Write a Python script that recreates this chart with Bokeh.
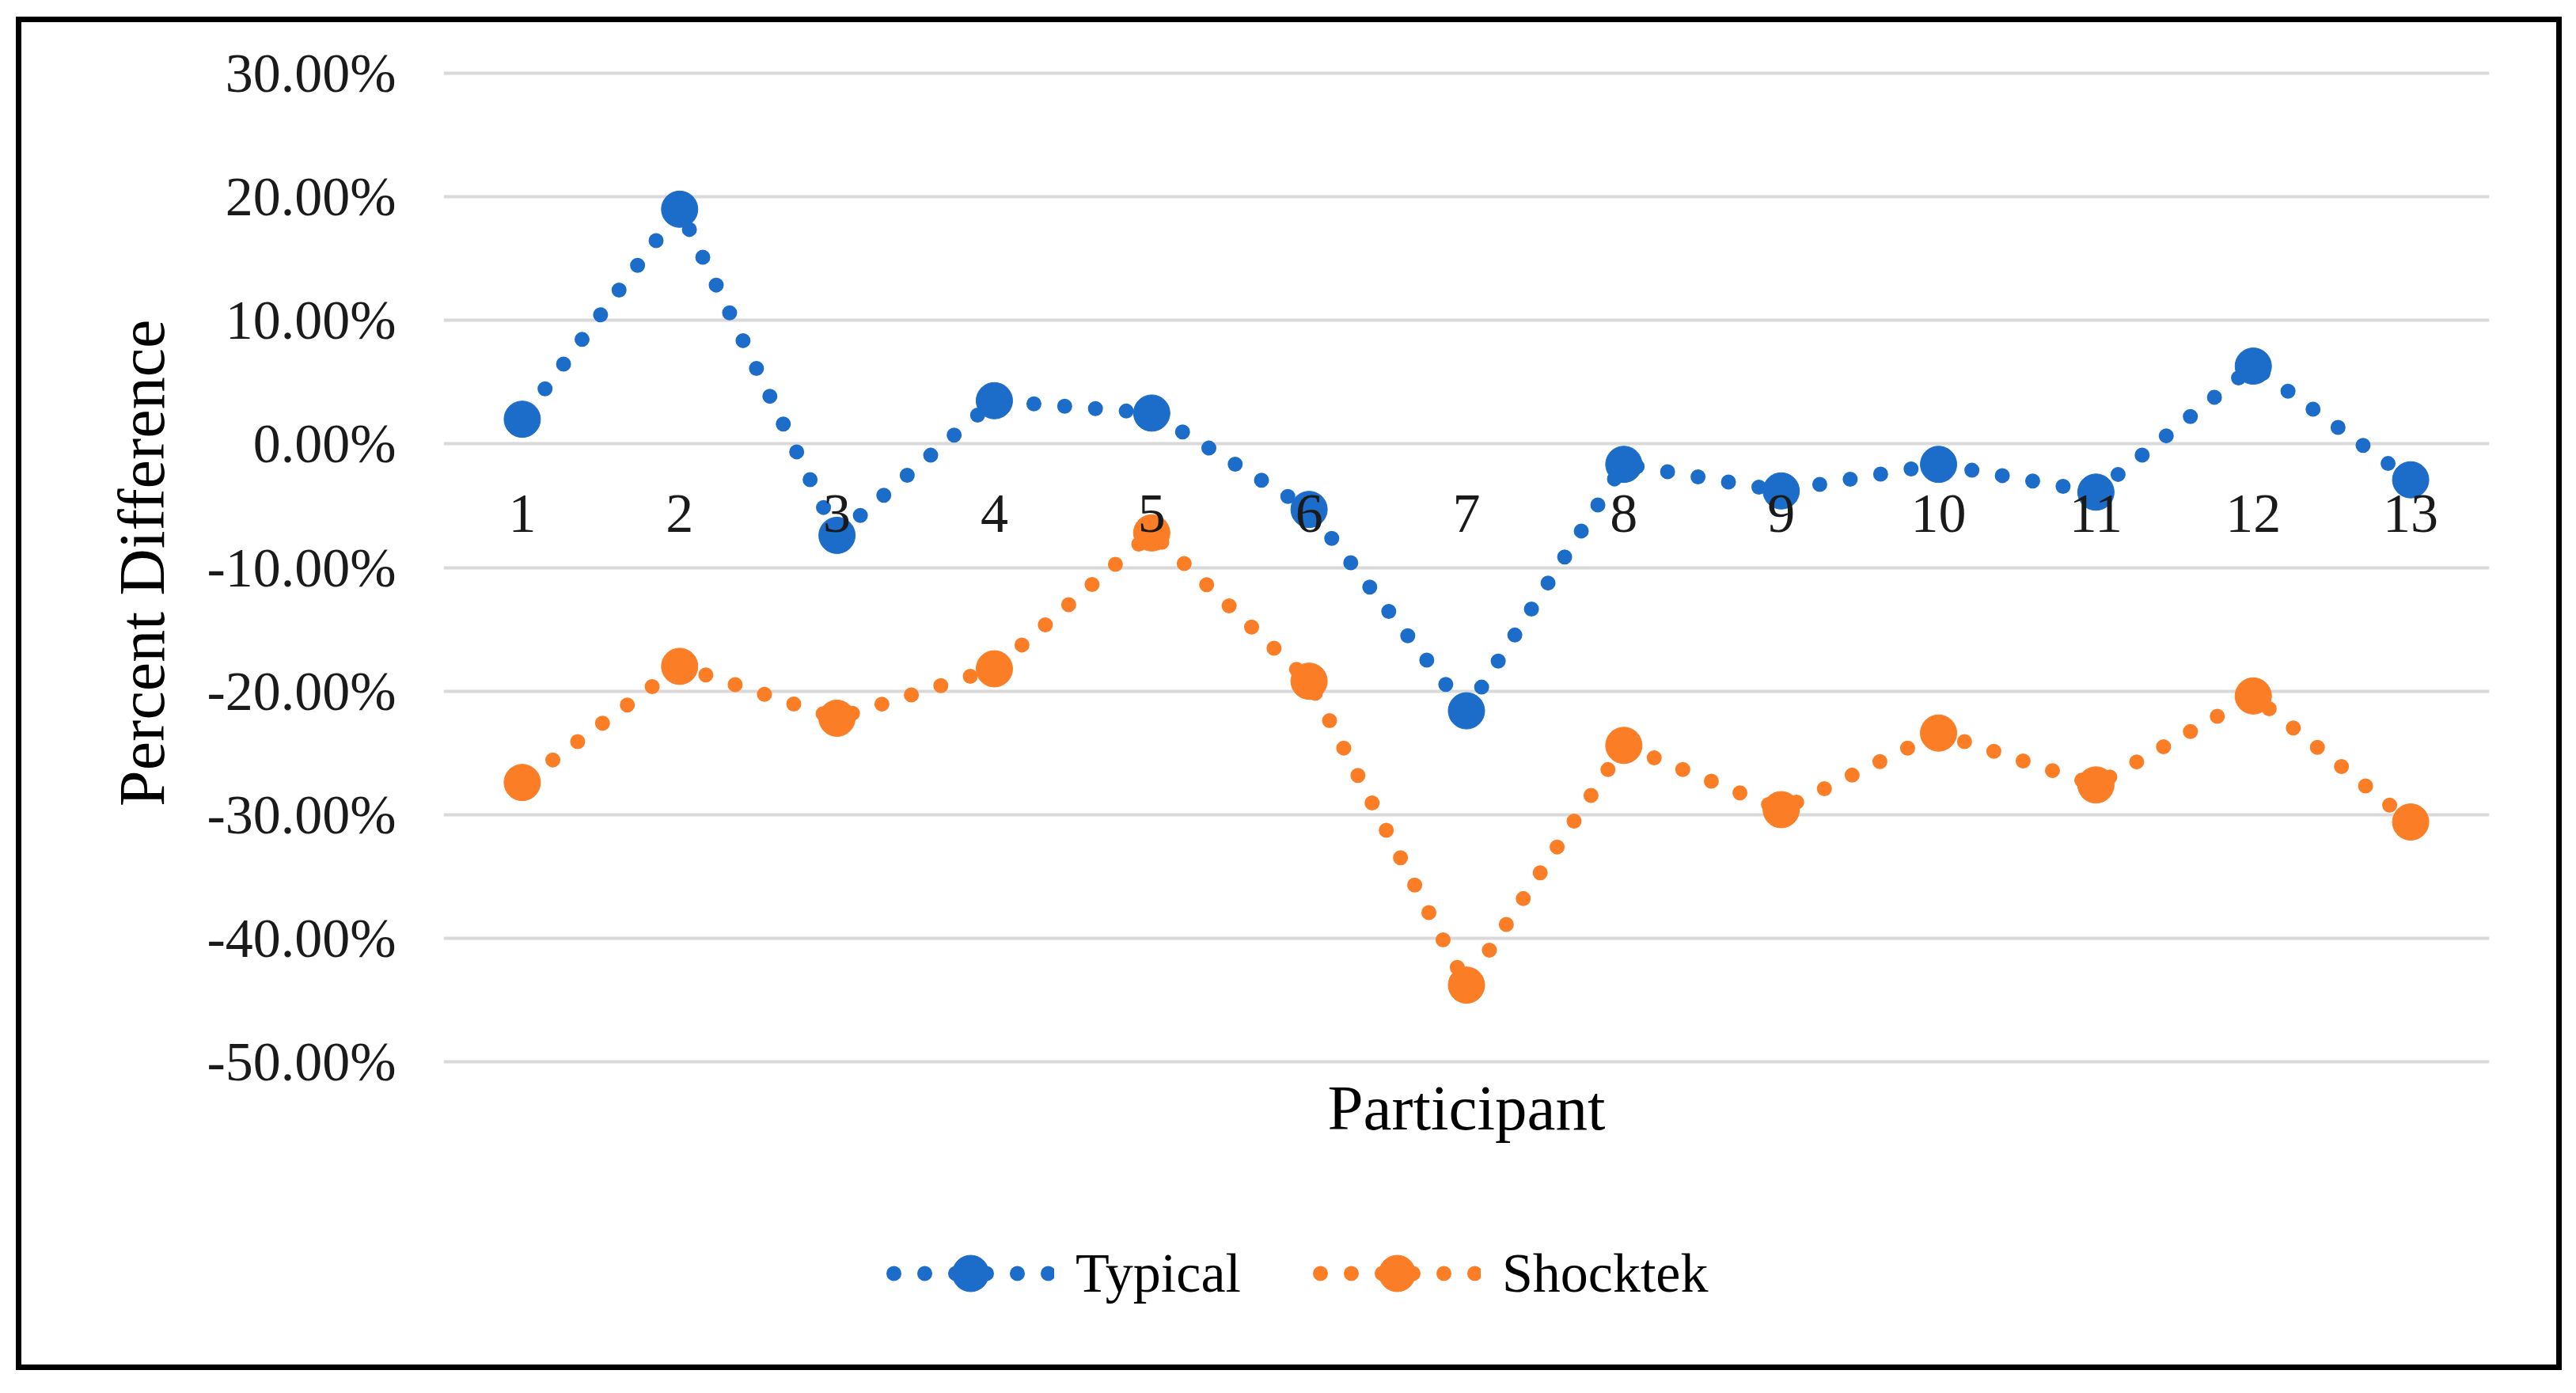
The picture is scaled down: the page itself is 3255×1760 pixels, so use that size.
from bokeh.plotting import figure
from bokeh.models import (Range1d, FixedTicker, NumeralTickFormatter, Legend, LegendItem,
                          Title, Label)
from bokeh.core.properties import value
from bokeh.embed import file_html
from bokeh.resources import INLINE

# ---- data ----
participants = ["1", "2", "3", "4", "5", "6", "7", "8", "9", "10", "11", "12", "13"]
typical = [0.020, 0.190, -0.074, 0.035, 0.025, -0.053, -0.216, -0.0165, -0.038, -0.0165, -0.039, 0.063, -0.029]
shocktek = [-0.274, -0.180, -0.222, -0.182, -0.072, -0.192, -0.438, -0.244, -0.296, -0.234, -0.276, -0.204, -0.306]
y_ticks = [-0.5, -0.4, -0.3, -0.2, -0.1, 0.0, 0.1, 0.2, 0.3]
series_names = ["Typical", "Shocktek"]
x_title = "Participant"
y_title = "Percent Difference"

x_pos = [i + 1 for i in range(len(participants))]

BLUE = "#1c6cc9"
ORANGE = "#fb7d26"
FONT = "Liberation Serif"

# frame runs from the top gridline down to the bottom of the chart box, so that the
# legend and the x title can sit inside it (below the lowest gridline)
PX_PER_UNIT = 1561.0
FRAME_TOP = 0.302
FRAME_H = 1696 - 61
y_bottom = FRAME_TOP - FRAME_H / PX_PER_UNIT

p = figure(width=3203, height=1696,
           x_range=Range1d(0.5, len(participants) + 0.5),
           y_range=Range1d(y_bottom, FRAME_TOP),
           x_axis_location=None,
           output_backend="svg", toolbar_location=None,
           min_border_left=533, min_border_right=85,
           min_border_top=61, min_border_bottom=0)
p.styles = {"outline": "7px solid black", "outline-offset": "0px",
            "position": "relative", "left": "27px", "top": "28px"}
p.outline_line_color = None
p.background_fill_color = "white"
p.border_fill_color = "white"

p.xgrid.grid_line_color = None
p.ygrid.ticker = FixedTicker(ticks=y_ticks)
p.ygrid.grid_line_color = "#d9d9d9"
p.ygrid.grid_line_width = 4

# y axis
ya = p.yaxis[0]
ya.ticker = FixedTicker(ticks=y_ticks)
ya.formatter = NumeralTickFormatter(format="0.00%")
ya.axis_line_color = None
ya.major_tick_line_color = None
ya.minor_tick_line_color = None
ya.major_tick_out = 0
ya.major_tick_in = 0
ya.major_label_standoff = 60
ya.major_label_text_font = FONT
ya.major_label_text_font_size = "70px"
ya.major_label_text_color = "#1a1a1a"

# y title, centred on the gridline block (anchored at the top of the frame)
ytitle = Title(text=y_title, align="right", offset=314, standoff=68,
               text_font=FONT, text_font_size="82px", text_font_style="normal",
               text_color="#000000")
p.add_layout(ytitle, "left")

# series
renderers = []
for vals, col in ((typical, BLUE), (shocktek, ORANGE)):
    ln = p.line(x=x_pos, y=vals, line_color=col, line_width=19,
                line_dash="0 39", line_dash_offset=30, line_cap="round")
    sc = p.scatter(x=x_pos, y=vals, size=46, fill_color=col, line_color=col)
    renderers.append([ln, sc])

# category labels along the zero line
p.text(x=x_pos, y=[0.0] * len(participants), text=participants,
       text_font=value(FONT), text_font_size="70px", text_color="#1a1a1a",
       text_align="center", text_baseline="alphabetic", y_offset=88)

# x title
p.add_layout(Label(x=(x_pos[0] + x_pos[-1]) / 2, y=325, y_units="screen", text=x_title,
                   text_font=FONT, text_font_size="81px", text_color="#000000",
                   text_align="center", text_baseline="alphabetic"))

legend = Legend(items=[LegendItem(label=n, renderers=r) for n, r in zip(series_names, renderers)],
                orientation="horizontal", location=(560, 58))
legend.label_text_font = FONT
legend.label_text_font_size = "70px"
legend.label_text_color = "#000000"
legend.border_line_color = None
legend.background_fill_alpha = 0
legend.padding = 0
legend.margin = 0
legend.spacing = 91
legend.glyph_width = 212
legend.glyph_height = 115
legend.label_standoff = 27
p.add_layout(legend, "center")

open("out.html", "w").write(file_html(p, INLINE))
